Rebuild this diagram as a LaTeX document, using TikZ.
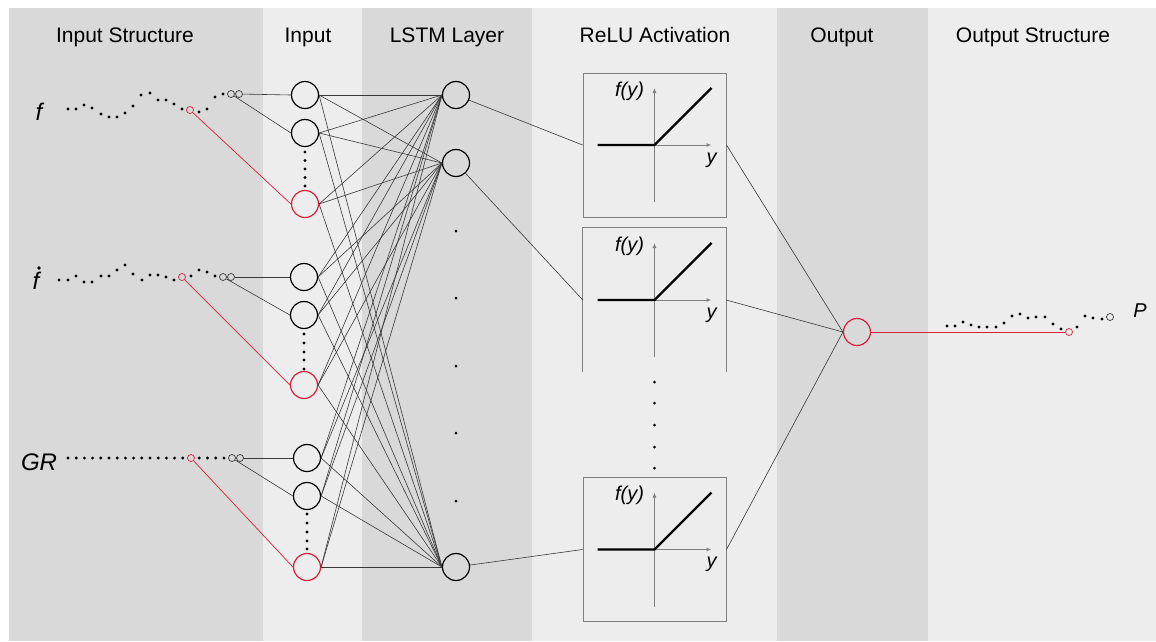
\documentclass[tikz,border=0pt]{standalone}
\usepackage{fontspec}
\setmainfont{Liberation Sans}
\usetikzlibrary{arrows.meta,calc}
\definecolor{bgdark}{HTML}{D9D9D9}
\definecolor{bglight}{HTML}{EDEDED}
\definecolor{myred}{HTML}{DC1E3C}
\definecolor{wire}{HTML}{383838}
\definecolor{axisgray}{HTML}{808080}
\begin{document}
\begin{tikzpicture}[x=1pt,y=-1pt,
  neuron/.style={circle,draw=black,line width=1.2pt,minimum size=27pt,inner sep=0pt},
  rneuron/.style={neuron,draw=myred},
  tap/.style={circle,draw=wire,line width=0.7pt,minimum size=7pt,inner sep=0pt},
  rtap/.style={tap,draw=myred},
  wireline/.style={draw=wire,line width=0.6pt},
  redline/.style={draw=myred,line width=0.7pt},
  header/.style={font=\fontsize{21}{24}\selectfont,anchor=base,inner sep=0pt},
  varlabel/.style={font=\fontsize{24}{28}\selectfont\itshape,inner sep=0pt},
  plabel/.style={font=\fontsize{20}{24}\selectfont\itshape,inner sep=0pt},
  relubox/.style={rectangle,minimum width=143pt,minimum height=144pt,inner sep=0pt},
  boxline/.style={draw=axisgray,line width=1pt},
  axis/.style={draw=axisgray,line width=1pt,-{Latex[length=5pt,width=4pt]}},
  relu/.style={draw=black,line width=2.2pt},
  graphlabel/.style={font=\fontsize{20}{24}\selectfont\itshape,inner sep=0pt}
]
\useasboundingbox (0,0) rectangle (1156,641);
\fill[white] (0,0) rectangle (1156,641);
% column backgrounds
\fill[bgdark]  (9,8)   rectangle (263,641);
\fill[bglight] (263,8) rectangle (362,641);
\fill[bgdark]  (362,8) rectangle (532,641);
\fill[bglight] (532,8) rectangle (777,641);
\fill[bgdark]  (777,8) rectangle (928,641);
\fill[bglight] (928,8) rectangle (1156,641);
% headers
\node[header] (h1) at (125,42.5) {Input Structure};
\node[header] (h2) at (308,42.5) {Input};
\node[header] (h3) at (447,42.5) {LSTM Layer};
\node[header] (h4) at (655,42.5) {ReLU Activation};
\node[header] (h5) at (842,42.5) {Output};
\node[header] (h6) at (1033,42.5) {Output Structure};
% variable labels
\node[varlabel] (lf) at (39,112) {f};
\node[varlabel] (lfd) at (36,281) {f};
\fill (39,268) circle (1.8pt);
\node[varlabel] (lgr) at (39,462) {GR};
\node[plabel] (lp) at (1140,311) {P};
% input series dots
\foreach \p in {(68,109),(76,109),(84,105),(92,108),(101,114),(109,117),(117,117),(125,113),(133,106),(141,95),(150,93),(158,100),(166,100),(174,104),(182,109),(199,112),(207,109),(215,97),(223,94)}
  \fill \p circle (1.6pt);
\foreach \p in {(59,280),(68,280),(76,276),(84,282),(92,282),(101,276),(109,276),(117,270),(125,265),(133,274),(142,280),(150,275),(158,275),(166,277),(174,280),(191,276),(199,270),(207,272),(215,276)}
  \fill \p circle (1.6pt);
\foreach \k in {0,...,14}
  \fill ({68+8.2*\k},458) circle (1.6pt);
\foreach \xx in {199.3,207.5,215.7,223.9}
  \fill (\xx,458) circle (1.6pt);
% output series dots
\foreach \p in {(947,326),(955,326),(963,322),(971,325),(979,327),(987,327),(996,327),(1004,323),(1012,316),(1020,314),(1028,318),(1036,317),(1045,317),(1053,324),(1061,329),(1077,327),(1085,316),(1093,318),(1102,319)}
  \fill \p circle (1.6pt);
% taps
\node[tap] (t1a) at (231,94) {};
\node[tap] (t1b) at (239,94) {};
\node[rtap] (r1) at (190,110) {};
\node[tap] (t2a) at (223,277) {};
\node[tap] (t2b) at (231,277) {};
\node[rtap] (r2) at (182,277) {};
\node[tap] (t3a) at (232,458) {};
\node[tap] (t3b) at (240,458) {};
\node[rtap] (r3) at (191,458) {};
\node[rtap] (ro) at (1069,332) {};
\node[tap] (to) at (1110,317) {};
% input neurons
\node[neuron]  (i1a) at (305,95) {};
\node[neuron]  (i1b) at (305,133) {};
\node[rneuron] (i1r) at (305,204) {};
\node[neuron]  (i2a) at (304,277) {};
\node[neuron]  (i2b) at (304,315) {};
\node[rneuron] (i2r) at (304,385) {};
\node[neuron]  (i3a) at (307,458) {};
\node[neuron]  (i3b) at (307,496) {};
\node[rneuron] (i3r) at (307,567) {};
\foreach \yy in {152,160.5,169,177.5,186} \fill (305,\yy) circle (1.6pt);
\foreach \yy in {334,343,352,360,369} \fill (304,\yy) circle (1.6pt);
\foreach \yy in {514,523,532,541,549} \fill (307,\yy) circle (1.6pt);
% LSTM neurons
\node[neuron] (l1) at (456,95) {};
\node[neuron] (l2) at (456,163) {};
\node[neuron] (l3) at (456,567) {};
\foreach \yy in {231,298,366,433,501} \fill (456,\yy) circle (1.5pt);
% output neuron
\node[rneuron] (out) at (857,332) {};
% ReLU boxes
\node[relubox,boxline] (box1) at (654.5,145) {};
\node[relubox] (box2) at (654.5,300) {};
\node[relubox,boxline] (box3) at (654.5,549.5) {};
\draw[boxline] (box2.south west) -- (box2.north west) -- (box2.north east) -- (box2.south east);
\foreach \yy in {382,403,425,447,468} \fill (654.5,\yy) circle (1.5pt);
\foreach \b in {box1,box2,box3} {
  \draw[axis] ($(\b.center)+(0,57)$) -- ($(\b.center)+(0,-57)$);
  \draw[axis] ($(\b.center)+(-57,0)$) -- ($(\b.center)+(57,0)$);
  \draw[relu] ($(\b.center)+(-57,0)$) -- (\b.center) -- ($(\b.center)+(57,-57)$);
  \node[graphlabel] at ($(\b.center)+(-25,-54)$) {f(y)};
  \node[graphlabel] at ($(\b.center)+(57,15)$) {y};
}
% input structure -> input
\draw[wireline] (t1b) -- (i1a.west);
\draw[wireline] (t1a) -- (i1b.west);
\draw[redline] (r1) -- (i1r.west);
\draw[wireline] (t2b) -- (i2a.west);
\draw[wireline] (t2a) -- (i2b.west);
\draw[redline] (r2) -- (i2r.west);
\draw[wireline] (t3b) -- (i3a.west);
\draw[wireline] (t3a) -- (i3b.west);
\draw[redline] (r3) -- (i3r.west);
% input -> LSTM
\foreach \i in {i1a,i1b,i1r,i2a,i2b,i2r,i3a,i3b,i3r}
  \foreach \l in {l1,l2,l3}
    \draw[wireline] (\i.east) -- (\l.west);
% LSTM -> ReLU
\draw[wireline] (l1) -- (box1.west);
\draw[wireline] (l2) -- (box2.west);
\draw[wireline] (l3) -- (box3.west);
% ReLU -> output
\draw[wireline] (box1.east) -- (out.west);
\draw[wireline] (box2.east) -- (out.west);
\draw[wireline] (box3.east) -- (out.west);
% output -> output structure
\draw[redline] (out.east) -- (ro);
\end{tikzpicture}
\end{document}
